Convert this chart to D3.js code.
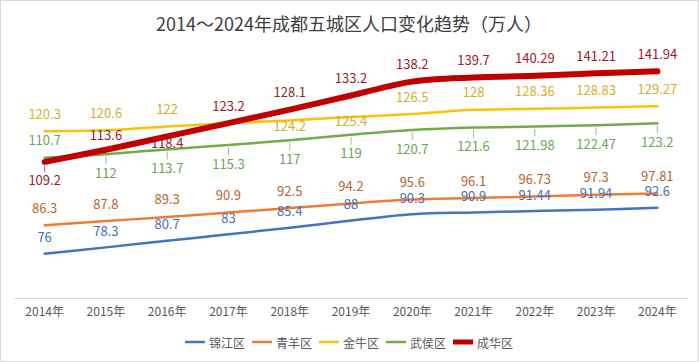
<!DOCTYPE html>
<html>
<head>
<meta charset="utf-8">
<script src="https://cdn.jsdelivr.net/npm/d3@7"></script>
<style>
  html, body { margin: 0; padding: 0; background: #fff; }
  svg { display: block; font-family: "Noto Sans CJK SC", "Noto Sans", sans-serif; }
</style>
</head>
<body>
<svg id="chart" width="699" height="362"></svg>
<script>
const years = ['2014年', '2015年', '2016年', '2017年', '2018年', '2019年', '2020年', '2021年', '2022年', '2023年', '2024年'];
const jinjiang = [76, 78.3, 80.7, 83, 85.4, 88, 90.3, 90.9, 91.44, 91.94, 92.6];
const qingyang = [86.3, 87.8, 89.3, 90.9, 92.5, 94.2, 95.6, 96.1, 96.73, 97.3, 97.81];
const jinniu = [120.3, 120.6, 122, 123.2, 124.2, 125.4, 126.5, 128, 128.36, 128.83, 129.27];
const wuhou = [110.7, 112, 113.7, 115.3, 117, 119, 120.7, 121.6, 121.98, 122.47, 123.2];
const chenghua = [109.2, 113.6, 118.4, 123.2, 128.1, 133.2, 138.2, 139.7, 140.29, 141.21, 141.94];
const seriesNames = ['锦江区', '青羊区', '金牛区', '武侯区', '成华区'];

const title = '2014～2024年成都五城区人口变化趋势（万人）';

// look of each series; label offsets are where the labels were dragged to
const styles = [
    {line: '#4472c4', text: '#4a6fb5', width: 2.5, dy: () => -17},
    {line: '#ed7d31', text: '#b5672f', width: 2.5, dy: () => -18},
    {line: '#ffc000', text: '#d6ae2c', width: 2.5, dy: i => i === 4 ? 5 : (i === 5 ? 3 : -18), hide: [3]},
    {line: '#70ad47', text: '#6ea35a', width: 2.5, dy: i => i === 0 ? -18 : 18, leaders: d3.range(1, 11)},
    {line: '#c00000', text: '#9b1a2e', width: 6, dy: i => i === 0 ? 18 : (i === 1 ? -15 : (i === 2 ? 6 : -18)), leaders: [0]}
];

const series = [jinjiang, qingyang, jinniu, wuhou, chenghua].map((values, k) => ({
    name: seriesNames[k],
    values,
    style: styles[k]
}));

const W = 699, H = 362;
const svg = d3.select('#chart');

svg.append('rect')
    .attr('x', 0.5).attr('y', 0.5)
    .attr('width', W - 1).attr('height', H - 1)
    .attr('fill', '#fff')
    .attr('stroke', '#d9d9d9');

svg.append('text')
    .attr('x', 349).attr('y', 23)
    .attr('text-anchor', 'middle')
    .attr('dominant-baseline', 'central')
    .attr('fill', '#404040')
    .style('font-size', '18px')
    .text(title);

const x = d3.scaleBand().domain(years).range([14, 688]).paddingInner(0).paddingOuter(0);
const cx = d => x(d) + x.bandwidth() / 2;
const y = d3.scaleLinear().domain([60, 150]).range([298, 49]);

// category axis, no ticks, grey base line
const axis = svg.append('g')
    .attr('transform', 'translate(0,298)')
    .call(d3.axisBottom(x).tickSize(0).tickPadding(9));
axis.select('.domain').attr('stroke', '#d9d9d9').attr('stroke-width', 1);
axis.selectAll('text')
    .attr('fill', '#595959')
    .style('font-size', '12px')
    .style('font-family', '"Noto Sans CJK SC", "Noto Sans", sans-serif');

const line = d3.line()
    .x((d, i) => cx(years[i]))
    .y(d => y(d))
    .curve(d3.curveCatmullRom.alpha(0));

svg.append('g').selectAll('path')
    .data(series)
    .join('path')
    .attr('d', s => line(s.values))
    .attr('fill', 'none')
    .attr('stroke', s => s.style.line)
    .attr('stroke-width', s => s.style.width)
    .attr('stroke-linecap', 'round')
    .attr('stroke-linejoin', 'round');

const labels = svg.append('g');
series.forEach(s => {
    let st = s.style;
    let pts = s.values.map((v, i) => ({v, i, px: cx(years[i]), py: y(v), dy: st.dy(i)}))
        .filter(p => !(st.hide || []).includes(p.i));

    labels.append('g').selectAll('line')
        .data(pts.filter(p => (st.leaders || []).includes(p.i)))
        .join('line')
        .attr('x1', p => p.px).attr('x2', p => p.px)
        .attr('y1', p => p.py + (p.dy > 0 ? 1 : -1) * (st.width / 2 + 1))
        .attr('y2', p => p.py + p.dy - (p.dy > 0 ? 1 : -1) * 8)
        .attr('stroke', st.text)
        .attr('stroke-opacity', 0.7)
        .attr('stroke-width', 1);

    labels.append('g').selectAll('text')
        .data(pts)
        .join('text')
        .attr('x', p => p.px)
        .attr('y', p => p.py + p.dy)
        .attr('text-anchor', 'middle')
        .attr('dominant-baseline', 'central')
        .attr('fill', st.text)
        .style('font-size', '13px')
        .text(p => p.v);
});

// legend, centred under the axis
const legend = svg.append('g').attr('transform', 'translate(0,342)');
const items = legend.selectAll('g')
    .data(series)
    .join('g');
items.append('line')
    .attr('x1', 0).attr('x2', 20)
    .attr('stroke', s => s.style.line)
    .attr('stroke-width', s => s.style.width === 6 ? 5 : 2.5);
items.append('text')
    .attr('x', 24)
    .attr('dominant-baseline', 'central')
    .attr('fill', '#595959')
    .style('font-size', '12px')
    .text(s => s.name);

let widths = [];
items.each(function(){ widths.push(this.getBBox().width); });
let gap = 7;
let total = d3.sum(widths) + gap * (widths.length - 1);
let pos = 349 - total / 2;
items.attr('transform', (s, i) => {
    let t = `translate(${pos},0)`;
    pos += widths[i] + gap;
    return t;
});
</script>
</body>
</html>
